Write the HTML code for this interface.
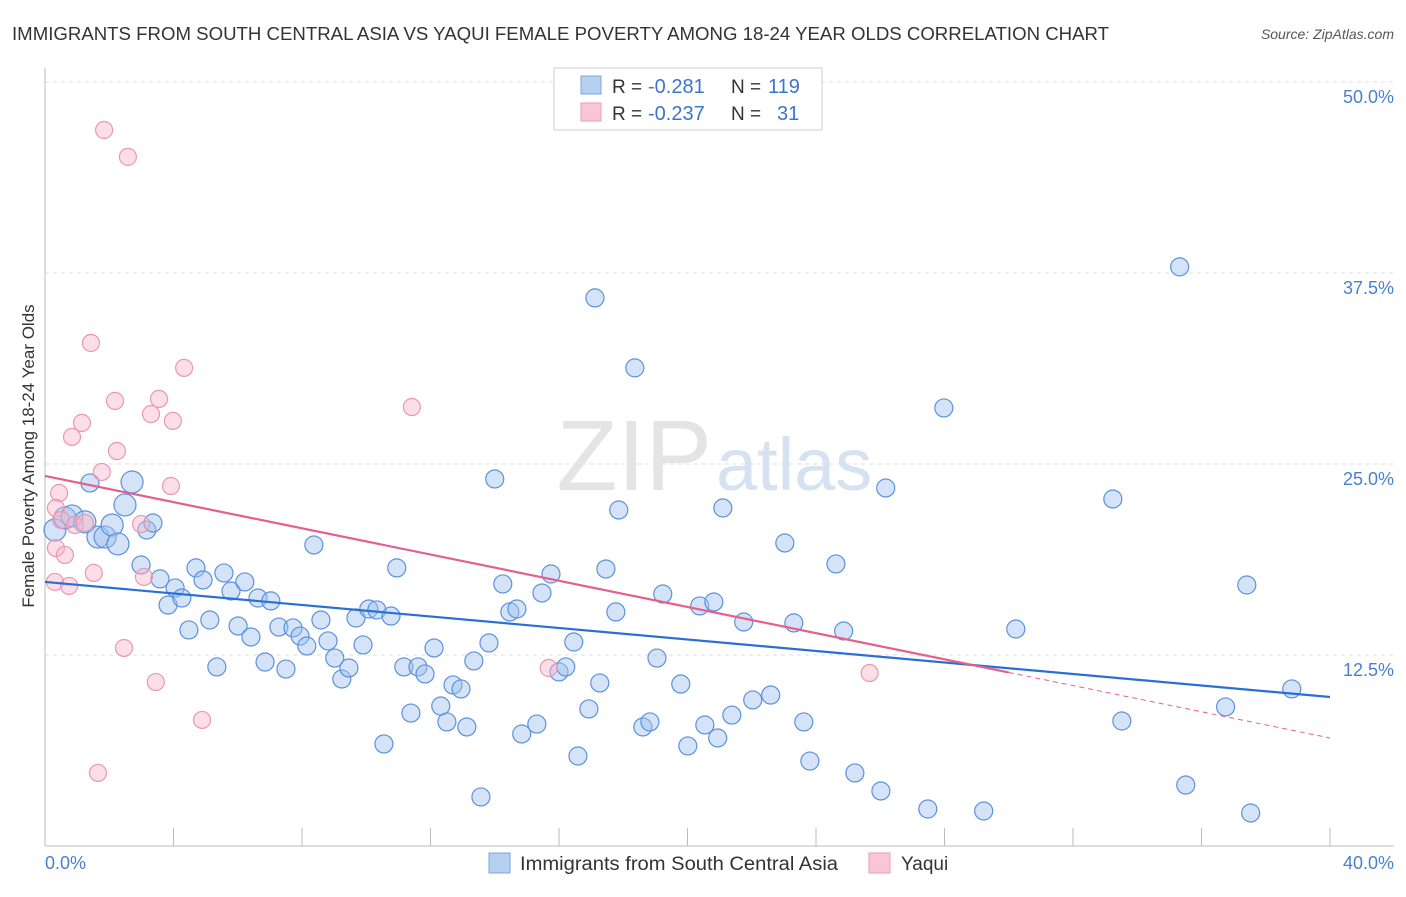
<!DOCTYPE html>
<html><head><meta charset="utf-8"><style>
body{margin:0;background:#fff;font-family:"Liberation Sans",sans-serif;}
svg text{font-family:"Liberation Sans",sans-serif;}
</style></head><body>
<svg id="chart" width="1406" height="892">
<text x="12" y="40" font-size="18" fill="#333" textLength="1097" lengthAdjust="spacingAndGlyphs">IMMIGRANTS FROM SOUTH CENTRAL ASIA VS YAQUI FEMALE POVERTY AMONG 18-24 YEAR OLDS CORRELATION CHART</text>
<text x="1394" y="39" font-size="14" fill="#555" text-anchor="end" font-style="italic">Source: ZipAtlas.com</text>
<g id="grid"></g>
<text x="712" y="490" font-size="100" fill="#e4e4e4" text-anchor="end" font-family="Liberation Serif">ZIP</text>
<text x="716" y="490" font-size="74" fill="#d6e2f2">atlas</text>
<g id="pts"></g>
<g id="lines"></g>
<text transform="translate(34,456) rotate(-90)" font-size="17" fill="#333" text-anchor="middle">Female Poverty Among 18-24 Year Olds</text>
<text x="45" y="869" font-size="18" fill="#4a7fd0">0.0%</text>
<text x="1394" y="869" font-size="18" fill="#4a7fd0" text-anchor="end">40.0%</text>
<g>
<rect x="554" y="68" width="268" height="62" fill="#fff" stroke="#ccc"/>
<rect x="581" y="76" width="20" height="18" fill="#b6d0f0" stroke="#7aa6df"/>
<rect x="581" y="103" width="20" height="18" fill="#f8c6d4" stroke="#eb9db5"/>
<text x="612" y="93" font-size="19" fill="#333">R =</text>
<text x="648" y="93" font-size="20" fill="#3d74cc">-0.281</text>
<text x="731" y="93" font-size="19" fill="#333">N =</text>
<text x="768" y="93" font-size="20" fill="#3d74cc">119</text>
<text x="612" y="120" font-size="19" fill="#333">R =</text>
<text x="648" y="120" font-size="20" fill="#3d74cc">-0.237</text>
<text x="731" y="120" font-size="19" fill="#333">N =</text>
<text x="777" y="120" font-size="20" fill="#3d74cc">31</text>
</g>
<g>
<rect x="489" y="853" width="21" height="20" fill="#b6d0f0" stroke="#7aa6df"/>
<text x="520" y="870" font-size="19" fill="#333" textLength="318" lengthAdjust="spacingAndGlyphs">Immigrants from South Central Asia</text>
<rect x="869" y="853" width="21" height="20" fill="#f8c6d4" stroke="#eb9db5"/>
<text x="901" y="870" font-size="19" fill="#333">Yaqui</text>
</g>
</svg>
<script>
const yTicks=[12.5,25,37.5,50];
const yTickLabels=["12.5%","25.0%","37.5%","50.0%"];
const xTicks=[0,4,8,12,16,20,24,28,32,36,40];
const blueX=[0.31,0.62,0.84,1.24,1.65,1.87,2.09,2.27,2.49,2.71,1.40,3.17,3.36,2.99,3.58,3.83,4.05,4.26,4.48,4.70,4.92,5.13,5.35,5.57,5.79,6.01,6.22,6.41,6.63,6.85,7.03,7.28,7.50,7.72,7.94,8.15,8.37,8.59,8.81,9.02,9.24,9.46,9.68,9.90,10.08,10.33,10.55,10.77,10.95,11.17,11.39,11.61,11.83,12.11,12.32,12.51,12.70,12.95,13.13,13.35,13.57,13.82,14.00,14.25,14.47,14.69,14.84,15.31,15.47,15.75,16.00,16.21,16.46,16.59,16.93,17.12,17.27,17.46,17.77,17.86,18.36,18.61,18.83,19.05,19.23,19.79,20.01,20.38,20.54,20.82,20.94,21.10,21.38,21.75,22.03,22.59,23.03,23.31,23.62,23.81,24.62,24.86,25.21,26.02,26.17,27.48,27.98,29.22,30.22,33.24,33.52,35.32,35.51,36.75,37.41,37.53,38.81];
const blueY=[20.68,21.47,21.60,21.21,20.22,20.22,21.01,19.77,22.32,23.82,23.76,20.68,21.14,18.39,17.48,15.77,16.89,16.23,14.14,18.20,17.41,14.79,11.72,17.87,16.69,14.40,17.28,13.68,16.23,12.04,16.04,14.33,11.58,14.27,13.74,13.09,19.70,14.79,13.42,12.30,10.93,11.65,14.92,13.16,15.51,15.45,6.68,15.05,18.20,11.72,8.70,11.72,11.26,12.96,9.16,8.12,10.54,10.28,7.79,12.11,3.21,13.29,24.02,17.15,15.32,15.51,7.33,7.98,16.56,17.80,11.39,11.72,13.35,5.89,8.97,35.87,10.67,18.13,15.32,21.99,31.29,7.79,8.12,12.30,16.49,10.60,6.55,15.71,7.92,15.97,7.07,22.12,8.57,14.66,9.56,9.88,19.83,14.60,8.12,5.56,18.46,14.07,4.78,3.60,23.43,2.42,28.67,2.29,14.20,22.71,8.18,37.90,3.99,9.10,17.08,2.16,10.28];
const pinkX=[1.84,2.58,1.43,4.33,11.42,2.18,3.55,3.30,3.98,1.15,0.84,2.24,1.77,3.92,0.44,0.34,0.50,0.93,1.24,0.34,0.62,0.31,0.75,1.52,3.08,2.99,2.46,3.45,4.89,1.65,15.68,25.67];
const pinkY=[46.86,45.10,32.92,31.29,28.73,29.13,29.26,28.27,27.82,27.69,26.77,25.85,24.48,23.56,23.10,22.12,21.34,21.01,21.14,19.50,19.05,17.28,17.02,17.87,17.61,21.07,12.96,10.73,8.25,4.78,11.65,11.32];
const blueTrend=[17.28,9.75];
const pinkTrend=[24.22,7.07];
const pinkSolidEnd=30;
const X0=45,X1=1330,Y0=846,YPER=15.28;
const xs=v=>X0+v*(X1-X0)/40;
const ys=v=>Y0-v*YPER;
const NS="http://www.w3.org/2000/svg";
function mk(tag,attrs,parent){const e=document.createElementNS(NS,tag);for(const k in attrs)e.setAttribute(k,attrs[k]);parent.appendChild(e);return e;}
const grid=document.getElementById('grid');
yTicks.forEach((t,i)=>{
 const l=mk('line',{x1:X0,x2:1394,y1:ys(t),y2:ys(t),stroke:'#ddd','stroke-dasharray':'4,4'},grid);
 
 
 const tx=mk('text',{x:1394,y:ys(t)+21,'font-size':18,fill:'#4a7fd0','text-anchor':'end'},grid);
 tx.textContent=yTickLabels[i];
 
 
});
const ax=mk('line',{x1:X0,x2:X0,y1:68,y2:Y0,stroke:'#bbb'},grid);


const bx=mk('line',{x1:X0,x2:1394,y1:Y0,y2:Y0,stroke:'#bbb'},grid);


xTicks.forEach(t=>{
 const l=mk('line',{x1:xs(t),x2:xs(t),y1:Y0-18,y2:Y0,stroke:'#bbb'},grid);
 
 
});
const pts=document.getElementById('pts');
blueX.forEach((x,i)=>{
 const c=mk('circle',{cx:xs(x),cy:ys(blueY[i]),r:i<10?11:9,fill:'rgba(160,194,238,0.45)',stroke:'#5b92dc','stroke-width':1.2},pts);
 
 
});
pinkX.forEach((x,i)=>{
 const c=mk('circle',{cx:xs(x),cy:ys(pinkY[i]),r:8.5,fill:'rgba(246,182,201,0.45)',stroke:'#ea98b2','stroke-width':1.2},pts);
 
 
});
const lines=document.getElementById('lines');
const bl=mk('line',{x1:xs(0),y1:ys(blueTrend[0]),x2:xs(40),y2:ys(blueTrend[1]),stroke:'#2a6fd6','stroke-width':2.2},lines);


const pAt=x=>pinkTrend[0]+(pinkTrend[1]-pinkTrend[0])*x/40;
const pl=mk('line',{x1:xs(0),y1:ys(pAt(0)),x2:xs(pinkSolidEnd),y2:ys(pAt(pinkSolidEnd)),stroke:'#e4608a','stroke-width':2.2},lines);


const pd=mk('line',{x1:xs(pinkSolidEnd),y1:ys(pAt(pinkSolidEnd)),x2:xs(40),y2:ys(pAt(40)),stroke:'#e4608a','stroke-width':1,'stroke-dasharray':'5,4'},lines);


</script>
</body></html>
